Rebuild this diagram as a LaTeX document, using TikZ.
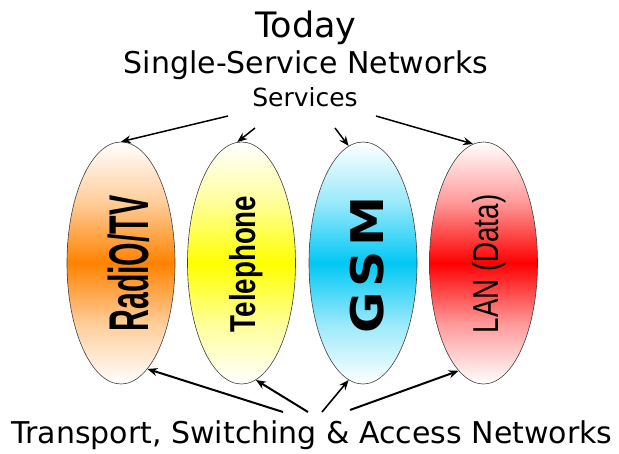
\documentclass[tikz,border=0pt]{standalone}
\usepackage{fontspec}
\setmainfont{DejaVu Sans}
\newfontfamily\labelfont{Liberation Sans}
\usetikzlibrary{shapes.geometric,arrows.meta}

% fill colours of the four service networks
\definecolor{radioc}{RGB}{255,130,0}
\definecolor{phonec}{RGB}{255,255,0}
\definecolor{gsmc}{RGB}{0,200,245}
\definecolor{lanc}{RGB}{255,0,0}

% white at both ends, full colour across the middle
\pgfdeclareverticalshading{shRadio}{100bp}{color(0bp)=(white); color(25bp)=(white); color(37.5bp)=(radioc!40); color(50bp)=(radioc); color(62.5bp)=(radioc!40); color(75bp)=(white); color(100bp)=(white)}
\pgfdeclareverticalshading{shPhone}{100bp}{color(0bp)=(white); color(25bp)=(white); color(37.5bp)=(phonec!40); color(50bp)=(phonec); color(62.5bp)=(phonec!40); color(75bp)=(white); color(100bp)=(white)}
\pgfdeclareverticalshading{shGsm}{100bp}{color(0bp)=(white); color(25bp)=(white); color(37.5bp)=(gsmc!40); color(50bp)=(gsmc); color(62.5bp)=(gsmc!40); color(75bp)=(white); color(100bp)=(white)}
\pgfdeclareverticalshading{shLan}{100bp}{color(0bp)=(white); color(25bp)=(white); color(37.5bp)=(lanc!40); color(50bp)=(lanc); color(62.5bp)=(lanc!40); color(75bp)=(white); color(100bp)=(white)}

\tikzset{
  netshape/.style={ellipse, draw=black!75, line width=0.6pt, minimum width=108pt,
    minimum height=242pt, inner sep=0pt},
  netlabel/.style={rotate=90, anchor=base, inner sep=0pt},
  heading/.style={anchor=base, inner sep=0pt},
  feed/.style={line width=1.5pt, -{Stealth[length=10pt,width=8pt]}},
}

\begin{document}
\begin{tikzpicture}[x=1pt,y=-1pt]
\useasboundingbox (0,0) rectangle (619,453);

% titles
\node[heading, font=\fontsize{35}{40}\selectfont] (today) at (306,37) {Today};
\node[heading, font=\fontsize{30}{36}\selectfont] (single) at (306,73) {Single-Service Networks};
\node[heading, font=\fontsize{25}{30}\selectfont] (services) at (305,106) {Services};
\node[heading, font=\fontsize{30}{34}\selectfont] (transport) at (312,443) {Transport, Switching \& Access Networks};

% the four single-service networks
\node[netshape, shading=shRadio] (radio) at (121,263) {};
\node[netshape, shading=shPhone] (phone) at (241.5,263) {};
\node[netshape, shading=shGsm] (gsm) at (363,263) {};
\node[netshape, shading=shLan] (lan) at (483.5,263) {};

\node[netlabel, font=\labelfont\bfseries\fontsize{56}{60}\selectfont] (radiolbl) at (148,263.5) {\scalebox{0.54}[1]{RadiO/TV}};
\node[netlabel, font=\labelfont\bfseries\fontsize{36}{40}\selectfont] (phonelbl) at (255,264) {\scalebox{0.77}[1]{Telephone}};
\node[netlabel, font=\bfseries\fontsize{45}{50}\selectfont] (gsmlbl) at (383,265) {\scalebox{1.12}[1]{G\hspace{4pt}S\hspace{4pt}M}};
\node[netlabel, font=\labelfont\fontsize{36}{40}\selectfont] (lanlbl) at (498,264) {\scalebox{0.77}[1]{LAN (Data)}};

% arrow tails
\coordinate (s1) at (228,116);
\coordinate (s2) at (255,128);
\coordinate (s3) at (335,128);
\coordinate (s4) at (376,116);
\coordinate (t1) at (283,412);
\coordinate (t2) at (308,412);
\coordinate (t3) at (322,412);
\coordinate (t4) at (350,410);

% services feeding each network
\draw[feed] (s1) -- (radio.90);
\draw[feed] (s2) -- (phone.92);
\draw[feed] (s3) -- (gsm.97);
\draw[feed] (s4) -- (lan.95);

% transport feeding each network
\draw[feed, line width=2pt] (t1) -- (radio.-76);
\draw[feed, line width=2pt] (t2) -- (phone.-83);
\draw[feed, line width=1.6pt] (t3) -- (gsm.-97);
\draw[feed, line width=2pt] (t4) -- (lan.-103);
\end{tikzpicture}
\end{document}
